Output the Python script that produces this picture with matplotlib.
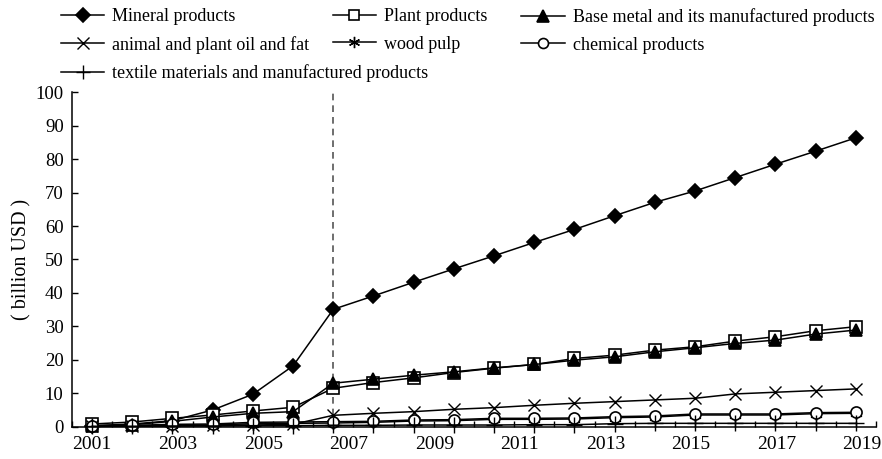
import numpy as np
import matplotlib.pyplot as plt
from matplotlib.ticker import FixedLocator, NullFormatter

plt.rcParams['font.family'] = ['Liberation Serif', 'DejaVu Serif']

# export values by product group, billion USD (20 observations)
mineral = [0.3, 0.8, 1.8, 5.0, 9.7, 18.2, 35.1, 39.1, 43.2, 47.2,
           51.1, 55.1, 59.0, 63.1, 67.1, 70.5, 74.5, 78.5, 82.4, 86.4]
plant = [0.8, 1.4, 2.5, 3.5, 4.7, 5.8, 11.5, 13.2, 14.6, 16.2,
         17.5, 18.6, 20.4, 21.4, 22.9, 23.9, 25.6, 26.9, 28.7, 29.9]
base_metal = [0.2, 0.6, 1.6, 2.9, 4.0, 4.5, 13.0, 14.2, 15.4, 16.4,
              17.6, 18.6, 19.9, 20.9, 22.4, 23.6, 24.9, 25.9, 27.7, 28.9]
oil_fat = [0.1, 0.2, 0.3, 0.4, 0.5, 0.7, 3.4, 4.0, 4.5, 5.2,
           5.7, 6.4, 7.0, 7.5, 8.0, 8.5, 9.8, 10.3, 10.8, 11.3]
wood_pulp = [0.1, 0.2, 0.4, 0.5, 0.9, 1.0, 1.1, 1.3, 1.7, 1.8,
             2.2, 2.2, 2.3, 2.7, 2.9, 3.5, 3.5, 3.5, 3.9, 4.0]
chemical = [0.3, 0.4, 0.7, 0.8, 1.3, 1.4, 1.5, 1.6, 2.0, 2.1,
            2.5, 2.5, 2.6, 3.0, 3.2, 3.8, 3.8, 3.8, 4.2, 4.3]
textile = [0.1, 0.1, 0.2, 0.2, 0.3, 0.3, 0.4, 0.4, 0.5, 0.5,
           0.5, 0.6, 0.6, 0.9, 1.0, 1.0, 1.0, 1.0, 1.0, 1.0]

year_labels = ['2001', '2003', '2005', '2007', '2009',
               '2011', '2013', '2015', '2017', '2019']
marked_point = 6  # dashed marker line

x = np.arange(len(mineral))

fig = plt.figure(figsize=(8.82, 4.59), dpi=100)
ax = fig.add_axes([0.0816, 0.0704, 0.9116, 0.7285])

lw = 1.1
series = [
    (mineral, 'Mineral products', dict(marker='D', ms=7.5, mfc='black')),
    (plant, 'Plant products', dict(marker='s', ms=8, mfc='white')),
    (base_metal, 'Base metal and its manufactured products',
     dict(marker='^', ms=9, mfc='black')),
    (oil_fat, 'animal and plant oil and fat', dict(marker='x', ms=9, mew=1.0)),
    (wood_pulp, 'wood pulp', dict(marker=(6, 2, 0), ms=9, mew=1.0)),
    (chemical, 'chemical products', dict(marker='o', ms=8, mfc='white')),
    (textile, 'textile materials and manufactured products',
     dict(marker='+', ms=11, mew=1.0)),
]
handles = []
for vals, name, style in series:
    st = dict(color='black', lw=lw, mec='black', mew=1.2)
    st.update(style)
    h, = ax.plot(x, vals, label=name, clip_on=False, **st)
    handles.append(h)

ax.vlines(x[marked_point], 0, 101, colors='#555555', linestyles=(0, (4, 3)),
          lw=1.2, clip_on=False, zorder=1)

ax.set_xlim(-0.5, len(x) - 0.5)
ax.set_ylim(0, 100)
ax.set_yticks(np.arange(0, 101, 10))
ax.set_xticks(np.linspace(0, 19.15, len(year_labels)))
ax.set_xticklabels(year_labels)
ax.xaxis.set_minor_locator(FixedLocator(np.arange(-0.5, len(x) - 0.49, 0.5)))
ax.xaxis.set_minor_formatter(NullFormatter())
ax.tick_params(axis='x', which='major', length=0, pad=7, labelsize=14)
ax.tick_params(axis='x', which='minor', direction='in', length=4, width=1)
ax.tick_params(axis='y', direction='in', length=4.5, width=1, pad=6,
               labelsize=13.5)
for s in ['top', 'right']:
    ax.spines[s].set_visible(False)
for s in ['left', 'bottom']:
    ax.spines[s].set_linewidth(1.1)
ax.set_ylabel('( billion USD )', fontsize=14.5, labelpad=3)

# legend laid out as three columns
cols = [([0, 3, 6], 0.069), ([1, 4], 0.377), ([2, 5], 0.591)]
for idx, xpos in cols:
    leg = fig.legend([handles[i] for i in idx], [series[i][1] for i in idx],
                     loc='upper left', bbox_to_anchor=(xpos, 0.982),
                     frameon=False, fontsize=13, borderpad=0,
                     borderaxespad=0, handlelength=2.4, handletextpad=0.45,
                     labelspacing=0.58, markerscale=0.9)

fig.savefig('out.png', dpi=100)
